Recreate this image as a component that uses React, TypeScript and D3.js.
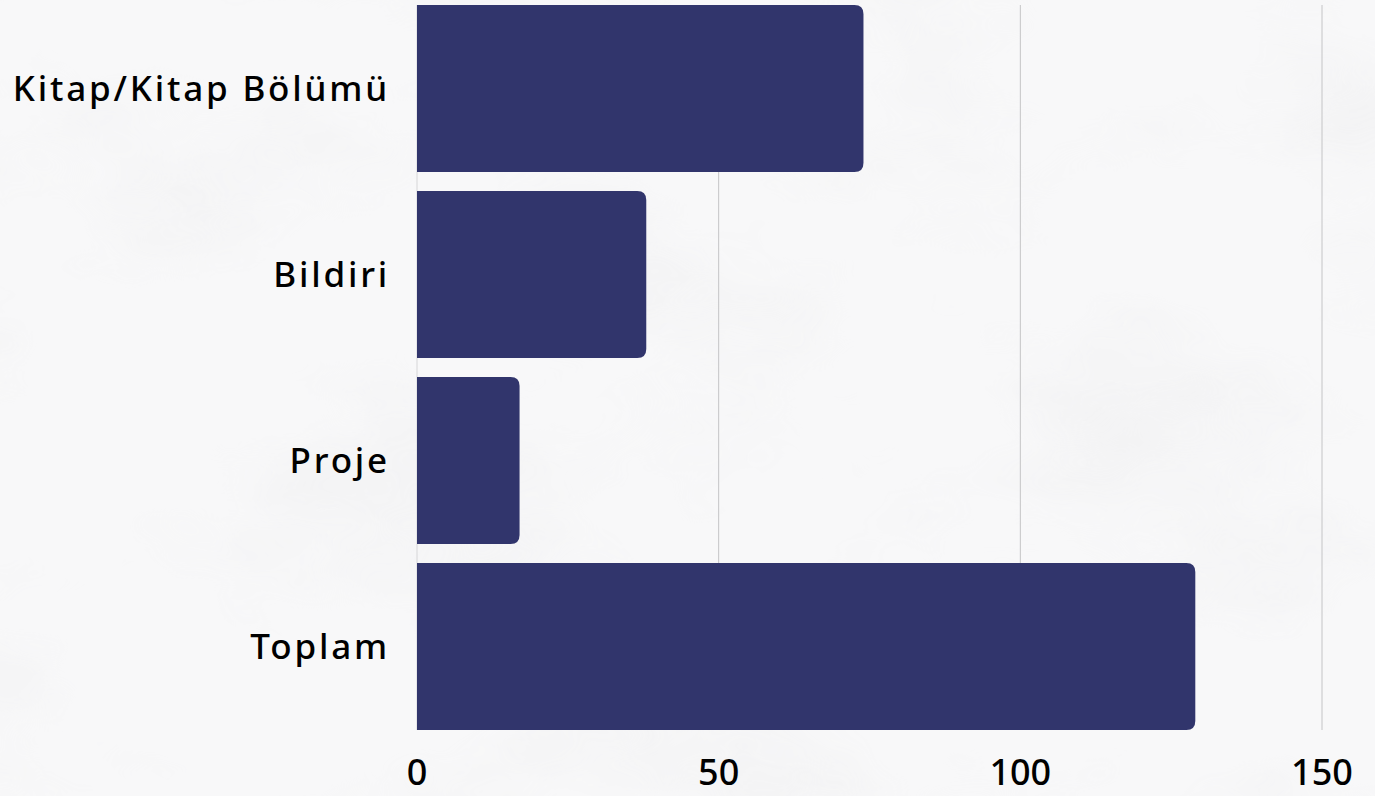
import React, { useEffect, useRef } from 'react';
import * as d3 from 'd3';

const categories = ['Kitap/Kitap Bölümü', 'Bildiri', 'Proje', 'Toplam'];
const values = [74, 38, 17, 129];
const xTicks = [0, 50, 100, 150];

const W = 1375;
const H = 796;
const BAR = '#31356c';

const App: React.FC = () => {
  const ref = useRef<SVGSVGElement | null>(null);

  useEffect(() => {
    if (!ref.current) return;
    const svg = d3.select(ref.current);
    svg.selectAll('*').remove();

    // marble-ish background
    const defs = svg.append('defs');
    const f = defs.append('filter').attr('id', 'marble').attr('x', 0).attr('y', 0).attr('width', '100%').attr('height', '100%');
    f.append('feTurbulence')
      .attr('type', 'fractalNoise')
      .attr('baseFrequency', '0.003 0.005')
      .attr('numOctaves', 4)
      .attr('seed', 7)
      .attr('result', 'noise');
    f.append('feColorMatrix')
      .attr('in', 'noise')
      .attr('type', 'matrix')
      .attr('values', '0 0 0 0 0.86  0 0 0 0 0.86  0 0 0 0 0.87  -3 0 0 0 1.6');
    svg.append('rect').attr('width', W).attr('height', H).attr('fill', '#f8f8f9');
    svg.append('rect').attr('width', W).attr('height', H).attr('filter', 'url(#marble)').attr('opacity', 0.5);

    const x = d3.scaleLinear().domain([0, 150]).range([417, 1322]);
    const y = d3.scaleBand<string>().domain(categories).range([5, 730]).paddingInner(0.102);

    // grid lines
    svg.append('g')
      .selectAll('line')
      .data(xTicks)
      .enter()
      .append('line')
      .attr('x1', (d) => x(d))
      .attr('x2', (d) => x(d))
      .attr('y1', 5)
      .attr('y2', 730)
      .attr('stroke', (d) => (d === 0 ? '#d6d6d8' : '#c4c4c6'))
      .attr('stroke-width', 1);

    // bars, right corners rounded
    const r = 9;
    svg.append('g')
      .selectAll('path')
      .data(values)
      .enter()
      .append('path')
      .attr('fill', BAR)
      .attr('d', (d, i) => {
        const x0 = x(0);
        const x1 = x(d);
        const y0 = y(categories[i])!;
        const h = y.bandwidth();
        return `M${x0},${y0}H${x1 - r}Q${x1},${y0} ${x1},${y0 + r}V${y0 + h - r}Q${x1},${y0 + h} ${x1 - r},${y0 + h}H${x0}Z`;
      });

    // category labels
    svg.append('g')
      .selectAll('text')
      .data(categories)
      .enter()
      .append('text')
      .attr('x', 390)
      .attr('y', (d) => y(d)! + y.bandwidth() / 2)
      .attr('dy', '0.36em')
      .attr('text-anchor', 'end')
      .attr('font-family', '"Noto Sans", sans-serif')
      .attr('font-weight', 500)
      .attr('font-size', 35)
      .attr('letter-spacing', 2.8)
      .attr('fill', '#000')
      .text((d) => d);

    // x tick labels
    svg.append('g')
      .selectAll('text')
      .data(xTicks)
      .enter()
      .append('text')
      .attr('x', (d) => x(d))
      .attr('y', 785)
      .attr('text-anchor', 'middle')
      .attr('font-family', '"Noto Sans", sans-serif')
      .attr('font-weight', 500)
      .attr('font-size', 36)
      .attr('fill', '#000')
      .text((d) => d);
  }, []);

  return (
    <div style={{ position: 'fixed', left: 0, top: 0 }}>
      <svg ref={ref} width={W} height={H} style={{ display: 'block' }} />
    </div>
  );
};

export default App;
